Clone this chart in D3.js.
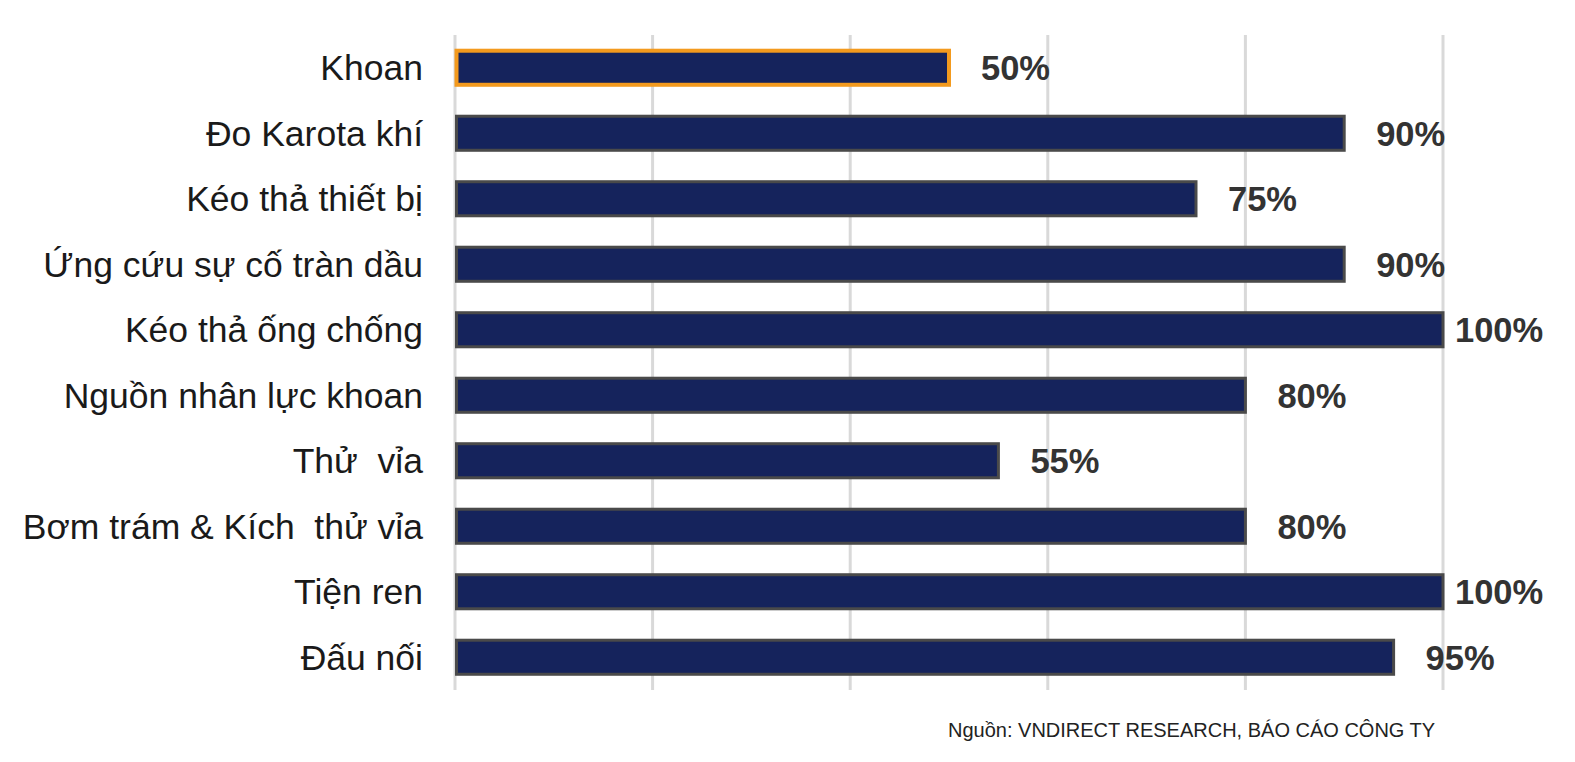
<!DOCTYPE html>
<html><head><meta charset="utf-8">
<script src="https://cdn.jsdelivr.net/npm/d3@7"></script>
<style>body{margin:0;background:#fff}svg{display:block}text{font-family:"Liberation Sans",Arial,sans-serif}</style>
</head><body>
<svg id="c" width="1575" height="762"></svg>
<script>
const categories = ["Khoan","Đo Karota khí","Kéo thả thiết bị","Ứng cứu sự cố tràn dầu","Kéo thả ống chống","Nguồn nhân lực khoan","Thử  vỉa","Bơm trám & Kích  thử vỉa","Tiện ren","Đấu nối"];
const values = [50,90,75,90,100,80,55,80,100,95];
const highlighted = ["Khoan"];
const ticks = [0,20,40,60,80,100];
const source = "Nguồn: VNDIRECT RESEARCH, BÁO CÁO CÔNG TY";

const svg = d3.select("#c");
const x = d3.scaleLinear().domain([0,100]).range([455,1443]);
const y = d3.scaleBand().domain(categories).range([35,690]).paddingInner(0.48).paddingOuter(0.24);

svg.append("g").selectAll("line").data(ticks).join("line")
  .attr("x1",d=>x(d)).attr("x2",d=>x(d)).attr("y1",35).attr("y2",690)
  .attr("stroke","#d9d9d9").attr("stroke-width",3);

const rows = categories.map((c,i)=>({c, v: values[i], hl: highlighted.includes(c)}));

svg.append("g").selectAll("rect").data(rows).join("rect")
  .attr("x",d=>x(0)+1.5).attr("y",d=>y(d.c))
  .attr("width",d=>x(d.v)-x(0)-1.5).attr("height",y.bandwidth())
  .attr("fill","#15235c")
  .attr("stroke",d=>d.hl?"#f39a1e":"#4a4a4a")
  .attr("stroke-width",d=>d.hl?4:3);

svg.append("g").selectAll("text").data(rows).join("text")
  .attr("x",423).attr("y",d=>y(d.c)+y.bandwidth()/2).attr("dy","0.35em")
  .attr("text-anchor","end")
  .attr("font-size",35.5).attr("fill","#1a1a1a").style("white-space","pre").text(d=>d.c);

svg.append("g").selectAll("text").data(rows).join("text")
  .attr("x",d=>Math.min(x(d.v)+32,1455)).attr("y",d=>y(d.c)+y.bandwidth()/2).attr("dy","0.36em")
  .attr("font-weight","bold")
  .attr("font-size",34.5).attr("fill","#333").text(d=>d.v+"%");

svg.append("text").attr("x",948).attr("y",737)
  .attr("font-size",20)
  .attr("fill","#222").text(source);
</script>
</body></html>
